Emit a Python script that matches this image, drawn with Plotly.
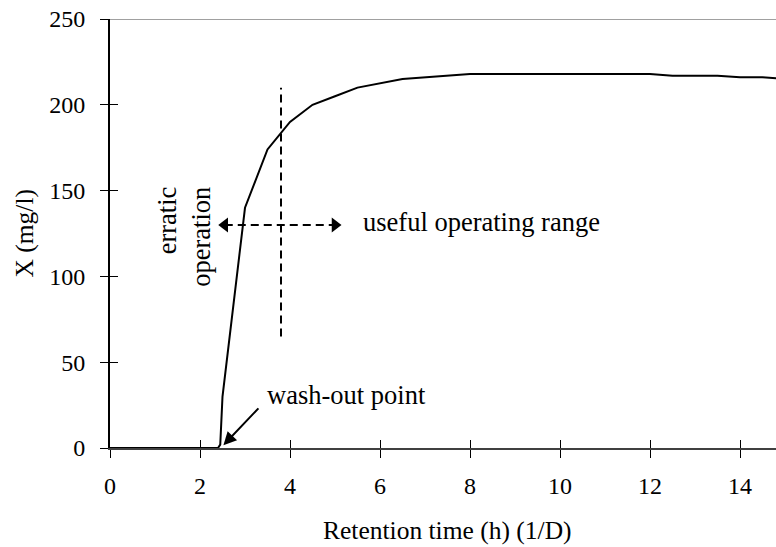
import plotly.graph_objects as go

# Biomass concentration X versus retention time (1/D) in a chemostat
retention_h = [0, 2.4, 2.45, 2.5, 3.0, 3.5, 4.0, 4.5, 5.0, 5.5, 6.5, 8.0, 12.0, 12.5, 13.5, 14.0, 14.5, 15.0]
biomass_mgl = [0, 0, 2, 30, 140, 174, 190, 200, 205, 210, 215, 218, 218, 217, 217, 216, 216, 215]

x_ticks = [0, 2, 4, 6, 8, 10, 12, 14]
y_ticks = [0, 50, 100, 150, 200, 250]

# operating-regime markers
boundary_x = [3.8, 3.8]
boundary_y = [65, 210]
range_arrow_x = [2.55, 5.0]
range_arrow_y = [130, 130]
washout_tip = (2.52, 1.6)
washout_tail = (3.33, 24)

FONT = "Liberation Serif"

fig = go.Figure()

fig.add_trace(go.Scatter(
    x=retention_h, y=biomass_mgl, mode="lines",
    line=dict(color="black", width=2), hoverinfo="skip", showlegend=False,
))
# same curve on the overlay axes so the inner tick marks are drawn
fig.add_trace(go.Scatter(
    x=retention_h, y=biomass_mgl, mode="lines", xaxis="x2", yaxis="y2",
    line=dict(color="rgba(0,0,0,0)", width=0), hoverinfo="skip", showlegend=False,
))

fig.add_trace(go.Scatter(
    x=boundary_x, y=boundary_y, mode="lines",
    line=dict(color="black", width=2, dash="8px,5px"), hoverinfo="skip", showlegend=False,
))
fig.add_trace(go.Scatter(
    x=range_arrow_x, y=range_arrow_y, mode="lines",
    line=dict(color="black", width=2, dash="8px,5px"), hoverinfo="skip", showlegend=False,
))
fig.add_trace(go.Scatter(
    x=range_arrow_x, y=range_arrow_y, mode="markers",
    marker=dict(symbol=["triangle-left", "triangle-right"], size=13, color="black"),
    hoverinfo="skip", showlegend=False,
))

fig.add_annotation(
    x=washout_tip[0], y=washout_tip[1], ax=washout_tail[0], ay=washout_tail[1],
    axref="x", ayref="y", xref="x", yref="y", text="", showarrow=True,
    arrowhead=2, arrowsize=1.3, arrowwidth=2, arrowcolor="black",
)
fig.add_annotation(
    x=3.44, y=30.8, xref="x", yref="y", text="wash-out point", showarrow=False,
    xanchor="left", yanchor="middle", font=dict(family=FONT, size=26.5, color="black"),
)
fig.add_annotation(
    x=5.58, y=131.7, xref="x", yref="y", text="useful operating range", showarrow=False,
    xanchor="left", yanchor="middle", font=dict(family=FONT, size=26.5, color="black"),
)
fig.add_annotation(
    x=1.64, y=123, xref="x", yref="y", text="erratic<br>operation", showarrow=False,
    textangle=-90, align="right", xanchor="center", yanchor="middle",
    font=dict(family=FONT, size=26.5, color="black"),
)

# axis titles
fig.add_annotation(
    x=7.5, y=0, xref="x", yref="paper", yshift=-82, text="Retention time (h) (1/D)",
    showarrow=False, xanchor="center", yanchor="middle",
    font=dict(family=FONT, size=25.5, color="black"),
)
fig.add_annotation(
    x=0, y=125, xref="paper", yref="y", xshift=-86, text="X (mg/l)", textangle=-90,
    showarrow=False, xanchor="center", yanchor="middle",
    font=dict(family=FONT, size=25.5, color="black"),
)

# gray top frame line
fig.add_shape(type="line", xref="paper", yref="y", x0=0, x1=1, y0=250, y1=250,
              line=dict(color="#a0a0a0", width=2))

common = dict(showgrid=False, zeroline=False, ticklen=8, tickwidth=1, tickcolor="black")

fig.update_layout(
    width=776, height=547,
    margin=dict(l=110, r=0, t=19, b=99),
    paper_bgcolor="white", plot_bgcolor="white",
    font=dict(family=FONT, size=24, color="black"),
    xaxis=dict(range=[0, 14.8], tickvals=x_ticks, ticks="outside", showline=True,
               linecolor="#404040", linewidth=2, ticklabelstandoff=7,
               tickfont=dict(family=FONT, size=24, color="black"), **common),
    yaxis=dict(range=[0, 250], tickvals=y_ticks, ticks="outside", showline=True,
               linecolor="black", linewidth=2, ticklabelstandoff=10,
               tickfont=dict(family=FONT, size=24, color="black"), **common),
    xaxis2=dict(range=[0, 14.8], tickvals=x_ticks, ticks="inside", overlaying="x",
                anchor="y2", showticklabels=False, showline=False, **common),
    yaxis2=dict(range=[0, 250], tickvals=y_ticks, ticks="inside", overlaying="y",
                anchor="x2", showticklabels=False, showline=False, **common),
)

fig.write_html("out.html")
